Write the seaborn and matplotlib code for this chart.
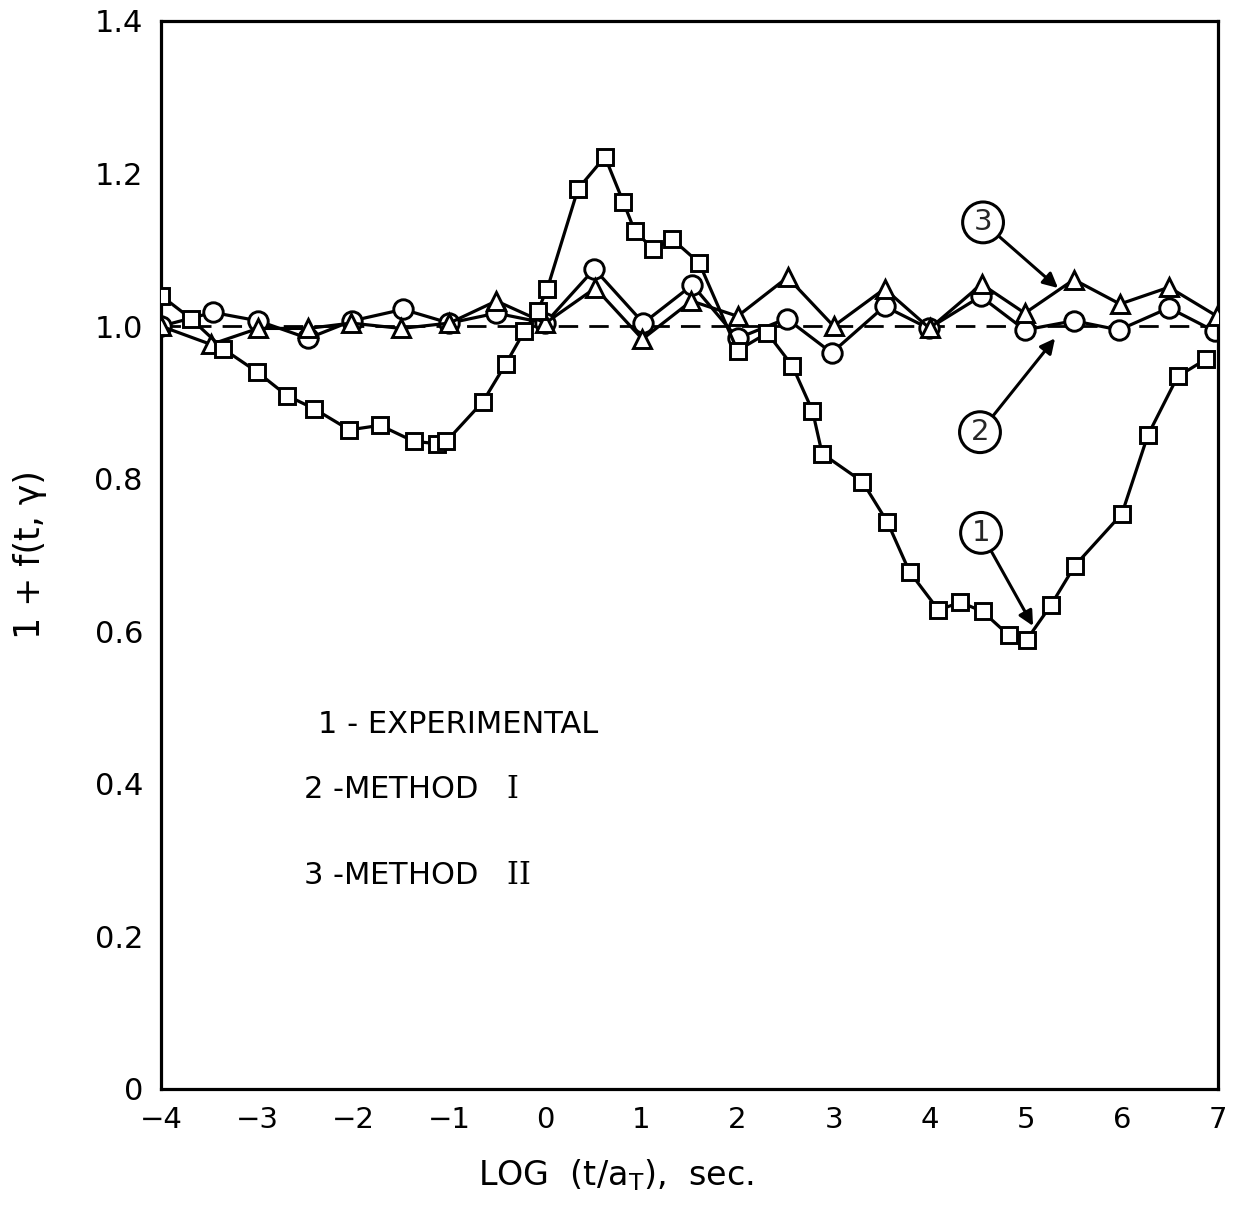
import matplotlib
matplotlib.use("Agg")
import matplotlib.pyplot as plt
import seaborn as sns
import pandas as pd

# ---- data ----
exp_x = [-4.0, -3.69, -3.35, -3.0, -2.69, -2.41, -2.04, -1.72, -1.37, -1.13, -1.03,
         -0.65, -0.41, -0.22, -0.08, 0.02, 0.34, 0.62, 0.81, 0.93, 1.12, 1.32, 1.60,
         2.0, 2.31, 2.57, 2.78, 2.88, 3.30, 3.56, 3.79, 4.09, 4.32, 4.55, 4.82, 5.01,
         5.26, 5.51, 6.0, 6.27, 6.58, 6.88]
exp_y = [1.04, 1.01, 0.97, 0.94, 0.909, 0.892, 0.864, 0.870, 0.849, 0.846, 0.849,
         0.901, 0.951, 0.993, 1.02, 1.049, 1.18, 1.222, 1.163, 1.125, 1.101, 1.114, 1.083,
         0.968, 0.991, 0.948, 0.889, 0.833, 0.796, 0.743, 0.678, 0.628, 0.638, 0.626, 0.595, 0.589,
         0.634, 0.686, 0.754, 0.857, 0.934, 0.957]

m1_x = [-4.0, -3.46, -2.99, -2.47, -2.01, -1.48, -1.0, -0.51, 0.0, 0.51, 1.02, 1.53,
        2.0, 2.51, 2.98, 3.53, 3.99, 4.53, 4.99, 5.50, 5.97, 6.49, 6.97]
m1_y = [1.0, 1.018, 1.007, 0.984, 1.007, 1.022, 1.004, 1.017, 1.004, 1.075, 1.004, 1.054,
        0.984, 1.01, 0.965, 1.026, 0.997, 1.039, 0.995, 1.007, 0.995, 1.024, 0.993]

m2_x = [-4.0, -3.48, -2.99, -2.47, -2.02, -1.50, -1.0, -0.51, 0.0, 0.52, 1.01, 1.52,
        2.0, 2.52, 3.0, 3.53, 4.0, 4.54, 4.99, 5.50, 5.98, 6.49, 6.99]
m2_y = [1.0, 0.976, 0.997, 0.997, 1.004, 0.997, 1.004, 1.033, 1.004, 1.05, 0.983, 1.033,
        1.013, 1.064, 1.0, 1.049, 0.997, 1.055, 1.017, 1.061, 1.029, 1.051, 1.013]

ref_level = 1.0
x_ticks = [-4, -3, -2, -1, 0, 1, 2, 3, 4, 5, 6, 7]
x_ticklabels = ["−4", "−3", "−2", "−1", "0", "1", "2", "3", "4", "5", "6", "7"]
y_ticks = [0, 0.2, 0.4, 0.6, 0.8, 1.0, 1.2, 1.4]
y_ticklabels = ["0", "0.2", "0.4", "0.6", "0.8", "1.0", "1.2", "1.4"]
legend_lines = ["1 - EXPERIMENTAL", "2 -METHOD   $\\mathrm{I}$", "3 -METHOD   $\\mathrm{II}$"]
callouts = [("3", (4.555, 1.136), (5.335, 1.050)),
            ("2", (4.523, 0.861), (5.304, 0.984)),
            ("1", (4.534, 0.729), (5.075, 0.607))]

sns.set_theme(style="white")
plt.rcParams["font.family"] = ["DejaVu Sans"]
plt.rcParams["mathtext.default"] = "regular"
plt.rcParams["mathtext.fontset"] = "custom"
plt.rcParams["mathtext.rm"] = "DejaVu Serif"

fig = plt.figure(figsize=(12.36, 12.05), dpi=100)
ax = fig.add_axes([161 / 1236, 1 - 1089 / 1205, (1218 - 161) / 1236, (1089 - 21) / 1205])

# reference dashed line
ax.axhline(ref_level, color="black", lw=2.0, dashes=(7, 4), zorder=1)

df1 = pd.DataFrame({"x": exp_x, "y": exp_y})
df2 = pd.DataFrame({"x": m1_x, "y": m1_y})
df3 = pd.DataFrame({"x": m2_x, "y": m2_y})

common = dict(color="black", linewidth=2.3, markerfacecolor="white",
              markeredgecolor="black", markeredgewidth=2.1, ax=ax)
sns.lineplot(data=df3, x="x", y="y", marker="^", markersize=13, zorder=3, **common)
sns.lineplot(data=df2, x="x", y="y", marker="o", markersize=14, zorder=2, **common)
sns.lineplot(data=df1, x="x", y="y", marker="s", markersize=12, zorder=4, **common)

ax.set_xlim(-4, 7)
ax.set_ylim(0, 1.4)
ax.set_xticks(x_ticks)
ax.set_xticklabels(x_ticklabels, fontsize=21)
ax.set_yticks(y_ticks)
ax.set_yticklabels(y_ticklabels, fontsize=22)
ax.set_yticks([0.1, 0.3, 0.5, 0.7, 0.9, 1.1, 1.3], minor=True)
ax.tick_params(axis="both", which="both", direction="in", length=11, width=2.0,
               color="black", labelcolor="black")
ax.tick_params(axis="x", pad=12)
ax.tick_params(axis="y", pad=13)
for s in ax.spines.values():
    s.set_linewidth(2.3)
    s.set_color("black")

ax.set_xlabel("LOG  (t/a$_{T}$),  sec.", fontsize=24, color="black")
ax.xaxis.set_label_coords(0.43, -0.064)
ax.set_ylabel("1 + f(t, γ)", fontsize=25, color="black")
ax.yaxis.set_label_coords(-0.108, 0.5)

legend_pos = [(0.1485, 0.341), (0.134, 0.280), (0.134, 0.200)]
for txt, (tx, ty) in zip(legend_lines, legend_pos):
    ax.text(tx, ty, txt, transform=ax.transAxes, fontsize=22, va="center", ha="left",
            color="black")

for lab, xy_text, xy_tip in callouts:
    ax.annotate(lab, xy=xy_tip, xytext=xy_text, fontsize=21, ha="center", va="center",
                bbox=dict(boxstyle="circle,pad=0.22", fc="white", ec="black", lw=2.2),
                arrowprops=dict(arrowstyle="-|>", color="black", lw=2.2,
                                mutation_scale=22, shrinkA=0, shrinkB=0),
                zorder=6)

fig.savefig("out.png", dpi=100, facecolor="white")
